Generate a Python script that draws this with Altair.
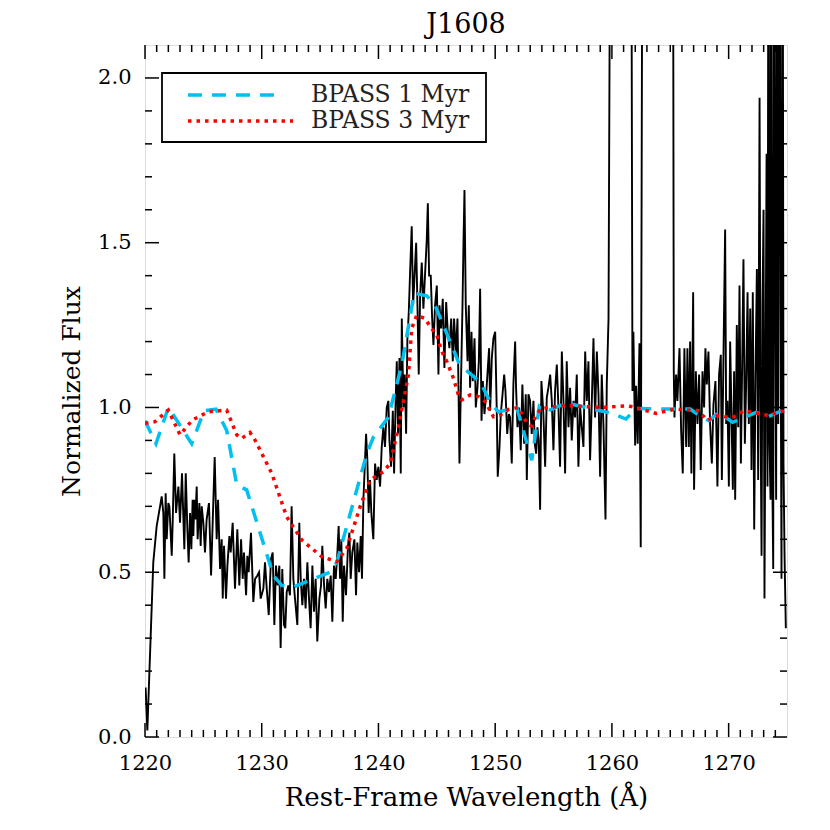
import altair as alt
import pandas as pd

# ---------------- data ----------------
title_text = "J1608"
x_title = "Rest-Frame Wavelength (Å)"
y_title = "Normalized Flux"
series_names = ["BPASS 1 Myr", "BPASS 3 Myr"]
series_colors = ["#00C0F0", "#FF0000"]

x_ticks = [1220, 1230, 1240, 1250, 1260, 1270]
y_ticks = [0.0, 0.5, 1.0, 1.5, 2.0]
x_minor = [v for v in range(1221, 1275) if v % 10 != 0]
y_minor = [round(0.1 * i, 1) for i in range(1, 21) if i % 5 != 0]

# observed spectrum (values above 2.1 are off the top of the frame)
spec_wave = [
    1220.05, 1220.20, 1220.71, 1221.00, 1221.29, 1221.43, 1221.57, 1221.66, 1221.77, 1221.86,
    1222.00, 1222.09, 1222.29, 1222.37, 1222.51, 1222.66, 1222.86, 1223.00, 1223.17, 1223.37,
    1223.49, 1223.63, 1223.74, 1223.86, 1223.97, 1224.08, 1224.14, 1224.23, 1224.31, 1224.43,
    1224.51, 1224.66, 1224.77, 1224.86, 1225.00, 1225.14, 1225.28, 1225.48, 1225.66, 1225.97,
    1226.14, 1226.26, 1226.43, 1226.57, 1226.66, 1226.77, 1226.94, 1227.06, 1227.23, 1227.34,
    1227.51, 1227.71, 1227.91, 1228.08, 1228.23, 1228.37, 1228.48, 1228.66, 1228.77, 1228.88,
    1229.08, 1229.28, 1229.43, 1229.63, 1229.77, 1229.91, 1230.14, 1230.28, 1230.43, 1230.60,
    1230.79, 1230.94, 1231.08, 1231.22, 1231.36, 1231.51, 1231.62, 1231.76, 1231.91, 1232.02,
    1232.14, 1232.28, 1232.42, 1232.56, 1232.71, 1232.85, 1233.05, 1233.22, 1233.34, 1233.48,
    1233.62, 1233.76, 1233.91, 1234.05, 1234.19, 1234.34, 1234.48, 1234.62, 1234.76, 1234.94,
    1235.08, 1235.19, 1235.34, 1235.48, 1235.62, 1235.76, 1235.91, 1236.05, 1236.19, 1236.34,
    1236.48, 1236.59, 1236.71, 1236.82, 1236.94, 1237.05, 1237.22, 1237.39, 1237.51, 1237.62,
    1237.76, 1237.94, 1238.08, 1238.19, 1238.34, 1238.48, 1238.59, 1238.71, 1238.85, 1238.94,
    1239.05, 1239.16, 1239.28, 1239.39, 1239.56, 1239.71, 1239.85, 1239.99, 1240.14, 1240.28,
    1240.42, 1240.56, 1240.71, 1240.85, 1240.94, 1241.08, 1241.23, 1241.34, 1241.48, 1241.57,
    1241.68, 1241.80, 1241.91, 1242.00, 1242.14, 1242.25, 1242.37, 1242.48, 1242.60, 1242.71,
    1242.85, 1242.97, 1243.08, 1243.23, 1243.34, 1243.45, 1243.57, 1243.71, 1243.85, 1244.00,
    1244.14, 1244.23, 1244.34, 1244.48, 1244.60, 1244.71, 1244.85, 1245.00, 1245.14, 1245.23,
    1245.37, 1245.51, 1245.65, 1245.80, 1245.94, 1246.08, 1246.23, 1246.37, 1246.48, 1246.63,
    1246.77, 1246.85, 1246.94, 1247.05, 1247.20, 1247.28, 1247.37, 1247.48, 1247.63, 1247.74,
    1247.85, 1247.97, 1248.08, 1248.23, 1248.34, 1248.48, 1248.60, 1248.71, 1248.83, 1248.94,
    1249.08, 1249.23, 1249.37, 1249.48, 1249.57, 1249.71, 1249.85, 1250.00, 1250.14, 1250.22,
    1250.37, 1250.48, 1250.63, 1250.77, 1250.88, 1251.03, 1251.17, 1251.28, 1251.42, 1251.56,
    1251.71, 1251.79, 1251.91, 1252.05, 1252.19, 1252.33, 1252.48, 1252.62, 1252.71, 1252.85,
    1252.99, 1253.13, 1253.28, 1253.39, 1253.51, 1253.62, 1253.73, 1253.85, 1253.96, 1254.13,
    1254.28, 1254.42, 1254.56, 1254.71, 1254.85, 1254.99, 1255.13, 1255.28, 1255.42, 1255.56,
    1255.71, 1255.85, 1255.99, 1256.13, 1256.28, 1256.42, 1256.56, 1256.71, 1256.85, 1256.99,
    1257.13, 1257.28, 1257.42, 1257.56, 1257.71, 1257.85, 1257.99, 1258.13, 1258.28, 1258.42,
    1258.56, 1258.71, 1258.85, 1258.99, 1259.13, 1259.28, 1259.45, 1259.56, 1259.71, 1259.90,
    1261.64, 1261.76, 1261.84, 1261.99, 1262.07, 1262.21, 1262.36, 1262.47, 1262.64,
    1265.22, 1265.30, 1265.36, 1265.50, 1265.61, 1265.79, 1265.93, 1266.07, 1266.21, 1266.36,
    1266.47, 1266.59, 1266.70, 1266.81, 1266.96, 1267.04, 1267.19, 1267.33, 1267.47, 1267.61,
    1267.76, 1267.90, 1268.01, 1268.13, 1268.27, 1268.41, 1268.56, 1268.70, 1268.87, 1269.04,
    1269.18, 1269.33, 1269.42, 1269.56, 1269.70, 1269.79, 1269.90, 1270.02, 1270.13, 1270.25,
    1270.36, 1270.47, 1270.56, 1270.70, 1270.82, 1270.93, 1271.05, 1271.16, 1271.27, 1271.39,
    1271.50, 1271.62, 1271.73, 1271.85, 1271.96, 1272.07, 1272.19, 1272.30, 1272.42, 1272.53,
    1272.65, 1272.73, 1272.82, 1272.90, 1272.99, 1273.07, 1273.16, 1273.25, 1273.33, 1273.42,
    1273.50, 1273.59, 1273.65, 1273.73, 1273.82, 1273.90, 1273.99, 1274.07, 1274.16, 1274.25,
    1274.36, 1274.45, 1274.53, 1274.62, 1274.70, 1274.79, 1274.90,
]
spec_flux = [
    0.15, 0.02, 0.53, 0.64, 0.70, 0.73, 0.68, 0.48, 0.74, 0.60,
    0.71, 0.70, 0.55, 0.65, 0.86, 0.68, 0.76, 0.65, 0.80, 0.57,
    0.80, 0.63, 0.53, 0.68, 0.57, 0.72, 0.61, 0.72, 0.66, 0.76,
    0.60, 0.71, 0.58, 0.70, 0.65, 0.56, 0.66, 0.71, 0.49, 0.85,
    0.60, 0.72, 0.51, 0.60, 0.42, 0.58, 0.42, 0.52, 0.61, 0.56,
    0.65, 0.45, 0.63, 0.46, 0.60, 0.48, 0.56, 0.43, 0.55, 0.50,
    0.62, 0.41, 0.48, 0.49, 0.50, 0.42, 0.45, 0.53, 0.45, 0.37,
    0.54, 0.56, 0.34, 0.52, 0.46, 0.52, 0.27, 0.51, 0.34, 0.33,
    0.44, 0.46, 0.43, 0.70, 0.48, 0.42, 0.34, 0.65, 0.48, 0.40,
    0.48, 0.39, 0.53, 0.42, 0.33, 0.52, 0.38, 0.48, 0.29, 0.42,
    0.46, 0.58, 0.46, 0.39, 0.48, 0.44, 0.49, 0.35, 0.52, 0.48,
    0.56, 0.64, 0.48, 0.60, 0.35, 0.52, 0.43, 0.58, 0.62, 0.48,
    0.56, 0.60, 0.43, 0.59, 0.50, 0.61, 0.48, 0.72, 0.84, 0.92,
    0.84, 0.68, 0.78, 0.68, 0.60, 0.83, 0.78, 0.82, 0.76, 0.88,
    0.94, 0.88, 1.00, 1.02, 0.90, 0.82, 0.99, 0.80, 1.03, 1.14,
    0.92, 1.15, 0.80, 1.27, 1.00, 1.10, 0.92, 1.21, 1.29, 1.41,
    1.55, 1.31, 1.39, 1.50, 1.31, 1.10, 1.34, 1.44, 1.30, 1.41,
    1.51, 1.62, 1.40, 1.40, 1.27, 1.19, 1.31, 1.37, 1.10, 1.31,
    1.24, 1.33, 1.12, 1.32, 1.23, 1.18, 1.27, 1.14, 1.27, 1.16,
    1.27, 1.08, 0.83, 1.04, 1.31, 1.49, 1.66, 1.31, 1.14, 1.31,
    1.06, 1.23, 1.08, 1.21, 1.00, 1.06, 1.14, 1.36, 0.96, 1.08,
    0.98, 1.04, 1.12, 1.18, 0.99, 1.15, 1.21, 1.23, 0.98, 0.79,
    0.88, 0.98, 1.04, 1.10, 1.05, 0.92, 0.98, 0.97, 0.83, 1.07,
    1.20, 1.06, 0.94, 1.00, 0.87, 1.07, 0.89, 1.04, 0.78, 1.04,
    1.02, 0.92, 1.02, 0.89, 0.86, 0.94, 0.90, 0.69, 1.08, 0.98,
    0.82, 1.03, 1.06, 1.10, 1.02, 0.87, 1.05, 1.13, 1.00, 0.82,
    1.17, 1.02, 0.80, 1.14, 0.94, 1.06, 0.90, 1.02, 0.97, 1.10,
    0.82, 1.00, 0.94, 0.88, 1.17, 1.02, 1.14, 0.84, 1.02, 1.21,
    0.97, 1.17, 1.04, 0.79, 1.10, 0.94, 0.66, 1.07, 1.27, 3.00,
    3.00, 1.05, 1.23, 0.885, 1.066, 0.89, 1.195, 0.576, 3.00,
    3.00, 1.11, 0.97, 1.10, 1.02, 1.18, 0.93, 0.80, 1.18, 0.88,
    1.18, 0.88, 1.20, 0.80, 1.35, 0.75, 1.11, 0.95, 1.10, 0.81,
    1.11, 1.00, 1.18, 1.07, 1.17, 0.95, 0.83, 1.01, 1.08, 0.76,
    1.10, 1.16, 0.78, 1.16, 1.54, 0.95, 1.02, 0.76, 1.20, 0.97,
    0.75, 1.11, 0.72, 1.25, 0.94, 1.37, 0.83, 1.13, 1.45, 0.89,
    1.07, 1.35, 0.95, 1.30, 0.81, 1.35, 0.63, 1.09, 1.42, 0.78,
    1.94, 1.00, 0.55, 1.30, 1.60, 0.42, 1.07, 1.77, 0.76, 3.00,
    0.89, 0.72, 3.00, 0.83, 0.51, 3.00, 1.32, 0.72, 3.00, 0.95,
    3.00, 1.30, 0.48, 3.00, 0.83, 0.55, 0.33,
]

# BPASS 1 Myr model
m1_wave = [1220.0, 1220.94, 1222.0, 1223.1, 1224.0, 1225.06, 1226.08, 1227.0, 1227.86, 1228.71,
           1231.0, 1231.71, 1232.71, 1235.85, 1236.43, 1239.0, 1239.57, 1240.85, 1242.0, 1242.91,
           1243.0, 1244.14, 1244.85, 1246.14, 1246.94, 1247.8, 1248.71, 1249.71, 1250.28, 1251.14,
           1251.85, 1253.13, 1253.79, 1254.71, 1255.71, 1256.56, 1259.03, 1260.19, 1261.2, 1262.07,
           1265.4, 1266.7, 1267.43, 1268.3, 1269.17, 1270.33, 1271.34, 1272.36, 1273.37, 1274.52,
           1275.0]
m1_flux = [0.96, 0.89, 1.0, 0.94, 0.89, 0.99, 0.995, 0.93, 0.765, 0.75,
           0.49, 0.46, 0.455, 0.50, 0.53, 0.86, 0.91, 0.97, 1.13, 1.316,
           1.347, 1.339, 1.31, 1.20, 1.13, 1.104, 1.078, 1.008, 0.987, 0.993,
           1.0, 0.84, 1.005, 0.993, 1.008, 1.01, 0.99, 0.98, 0.965, 0.997,
           0.995, 0.995, 0.977, 0.96, 0.985, 0.955, 0.97, 0.985, 0.972, 0.99,
           1.0]

# BPASS 3 Myr model
m3_wave = [1220.0, 1220.86, 1222.0, 1223.0, 1224.06, 1225.43, 1227.0, 1227.86, 1228.28, 1229.0,
           1229.43, 1230.86, 1232.14, 1233.43, 1235.14, 1236.43, 1237.28, 1238.43, 1239.28, 1240.43,
           1241.0, 1241.71, 1242.14, 1242.57, 1242.85, 1243.28, 1244.0, 1244.43, 1245.0, 1245.43,
           1245.85, 1246.43, 1246.85, 1247.14, 1247.85, 1248.57, 1249.14, 1249.85, 1250.43, 1251.14,
           1252.0, 1252.42, 1252.85, 1253.13, 1253.42, 1253.85, 1254.56, 1256.05, 1259.13, 1261.42,
           1263.8, 1265.4, 1267.43, 1268.16, 1269.0, 1270.33, 1271.3, 1273.37, 1274.96]
m3_flux = [0.952, 0.957, 0.992, 0.917, 0.962, 0.987, 0.992, 0.917, 0.906, 0.924,
           0.901, 0.80, 0.668, 0.598, 0.547, 0.532, 0.572, 0.699, 0.78, 0.805,
           0.83, 0.94, 1.02, 1.10, 1.24, 1.28, 1.27, 1.245, 1.22, 1.17,
           1.14, 1.088, 1.038, 1.023, 1.038, 1.033, 1.018, 0.972, 0.977, 0.994,
           1.0, 0.97, 0.947, 0.944, 0.97, 0.995, 1.0, 1.006, 1.0, 1.005,
           0.982, 0.995, 0.99, 0.961, 0.975, 0.969, 0.99, 0.976, 0.992]

# ---------------- chart ----------------
W, H = 642, 692
FONT = "DejaVu Serif"
xs = alt.Scale(domain=[1220, 1275], nice=False, zero=False)
ys = alt.Scale(domain=[0, 2.1], nice=False, zero=False)

xaxis = alt.Axis(
    title=x_title, values=x_ticks, format="d", ticks=False, domain=False, grid=False,
    labelFont=FONT, labelFontSize=21, labelPadding=15, labelColor="black", labelFlush=False,
    titleFont=FONT, titleFontSize=26, titleFontWeight="normal", titlePadding=11,
    titleColor="black")
yaxis = alt.Axis(
    title=y_title, values=y_ticks, format=".1f", ticks=False, domain=False, grid=False,
    labelFont=FONT, labelFontSize=21, labelPadding=14, labelColor="black", labelFlush=False,
    titleFont=FONT, titleFontSize=25, titleFontWeight="normal", titlePadding=13,
    titleColor="black")

spec_df = pd.DataFrame({"wave": spec_wave, "flux": spec_flux})
m1_df = pd.DataFrame({"wave": m1_wave, "flux": m1_flux})
m3_df = pd.DataFrame({"wave": m3_wave, "flux": m3_flux})

X = alt.X("wave:Q", scale=xs, axis=xaxis)
Y = alt.Y("flux:Q", scale=ys, axis=yaxis)

spectrum = alt.Chart(spec_df).mark_line(color="black", strokeWidth=1.9, clip=True).encode(
    x=X, y=Y, order="wave:Q")
model1 = alt.Chart(m1_df).mark_line(color=series_colors[0], strokeWidth=3.5,
                                    strokeDash=[14, 10], clip=True).encode(x=X, y=Y)
model3 = alt.Chart(m3_df).mark_line(color=series_colors[1], strokeWidth=3.5,
                                    strokeDash=[3.5, 5], clip=True).encode(x=X, y=Y)

def xtick_layer(vals, length):
    d = pd.DataFrame({"wave": vals})
    bottom = alt.Chart(d).mark_rule(color="black", strokeWidth=1.5).encode(
        x=X, y=alt.value(H), y2=alt.value(H - length))
    top = alt.Chart(d).mark_rule(color="black", strokeWidth=1.5).encode(
        x=X, y=alt.value(0), y2=alt.value(length))
    return [bottom, top]

def ytick_layer(vals, length):
    d = pd.DataFrame({"flux": vals})
    left = alt.Chart(d).mark_rule(color="black", strokeWidth=1.5).encode(
        y=Y, x=alt.value(0), x2=alt.value(length))
    right = alt.Chart(d).mark_rule(color="black", strokeWidth=1.5).encode(
        y=Y, x=alt.value(W), x2=alt.value(W - length))
    return [left, right]

ticks = (xtick_layer(x_ticks, 14) + xtick_layer(x_minor, 7)
         + ytick_layer(y_ticks, 14) + ytick_layer(y_minor, 7))

one = pd.DataFrame({"k": [0]})
legend_box = alt.Chart(one).mark_rect(fill="white", stroke="black", strokeWidth=1.8).encode(
    x=alt.value(17), x2=alt.value(341), y=alt.value(28), y2=alt.value(97))
leg_line1 = alt.Chart(one).mark_rule(color=series_colors[0], strokeWidth=3.5,
                                     strokeDash=[14, 10]).encode(
    x=alt.value(43), x2=alt.value(136), y=alt.value(50))
leg_line3 = alt.Chart(one).mark_rule(color=series_colors[1], strokeWidth=3.5,
                                     strokeDash=[3.5, 5]).encode(
    x=alt.value(43), x2=alt.value(148), y=alt.value(76))
leg_text1 = alt.Chart(pd.DataFrame({"label": [series_names[0]]})).mark_text(
    align="left", baseline="middle", font=FONT, fontSize=23.5, color="#222222").encode(
    x=alt.value(166), y=alt.value(50), text="label:N")
leg_text3 = alt.Chart(pd.DataFrame({"label": [series_names[1]]})).mark_text(
    align="left", baseline="middle", font=FONT, fontSize=23.5, color="#222222").encode(
    x=alt.value(166), y=alt.value(76), text="label:N")

chart = alt.layer(
    spectrum, model1, model3, *ticks,
    legend_box, leg_line1, leg_line3, leg_text1, leg_text3,
).properties(
    width=W, height=H,
    title=alt.TitleParams(title_text, font=FONT, fontSize=27, fontWeight="normal",
                          color="black", anchor="middle", offset=5),
    autosize=alt.AutoSizeParams(type="none"),
    padding={"left": 137, "top": 37, "right": 35, "bottom": 85},
).configure_view(stroke="black", strokeWidth=2).configure(background="white")

chart.save("out.html", embed_options={"renderer": "svg", "actions": False})
